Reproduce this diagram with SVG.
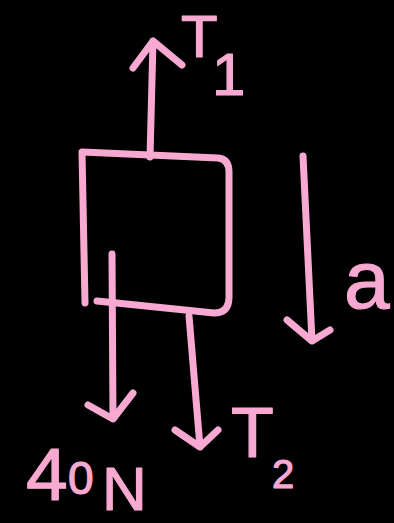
<svg xmlns="http://www.w3.org/2000/svg" width="394" height="523" viewBox="0 0 394 523">
<style>
.ink{fill:none;stroke:#f8a9d1;stroke-width:7;stroke-linecap:round;stroke-linejoin:round}
.lbl{fill:#f8a9d1;stroke:#f8a9d1;stroke-width:1.2;stroke-linejoin:round;font-family:"Liberation Sans",Arial,sans-serif}
</style>
<rect x="0" y="0" width="394" height="523" fill="#000"/>
<g id="box">
<path class="ink" d="M85,303 L82,152 L218,158 Q229,159 229,172 L229,297 Q229,313 214,313 L97,301"/>
</g>
<g id="connectors">
<path id="arrow-T1" class="ink" d="M150,157 L153,41 M133,68 L153,41 L182,65"/>
<path id="arrow-40N" class="ink" d="M112,254 L113,419 M88,405 L113,419 L133,393"/>
<path id="arrow-T2" class="ink" d="M189,316 L200,447 M175,430 L200,447 L218,430"/>
<path id="arrow-a" class="ink" d="M303,156 L312,341 M287,320 L312,341 L330,330"/>
</g>
<g id="label-T1">
<text class="lbl" x="181" y="57" font-size="60">T<tspan x="212" y="95">1</tspan></text>
</g>
<g id="label-T2">
<text class="lbl" x="231" y="457" font-size="70">T<tspan x="272" y="488" font-size="40">2</tspan></text>
</g>
<g id="label-40N">
<text class="lbl" x="26" y="500" font-size="75">4<tspan x="68" y="494" font-size="46">0</tspan><tspan x="102" y="510" font-size="62">N</tspan></text>
</g>
<g id="label-a">
<text class="lbl" x="344" y="308" font-size="82">a</text>
</g>
</svg>
